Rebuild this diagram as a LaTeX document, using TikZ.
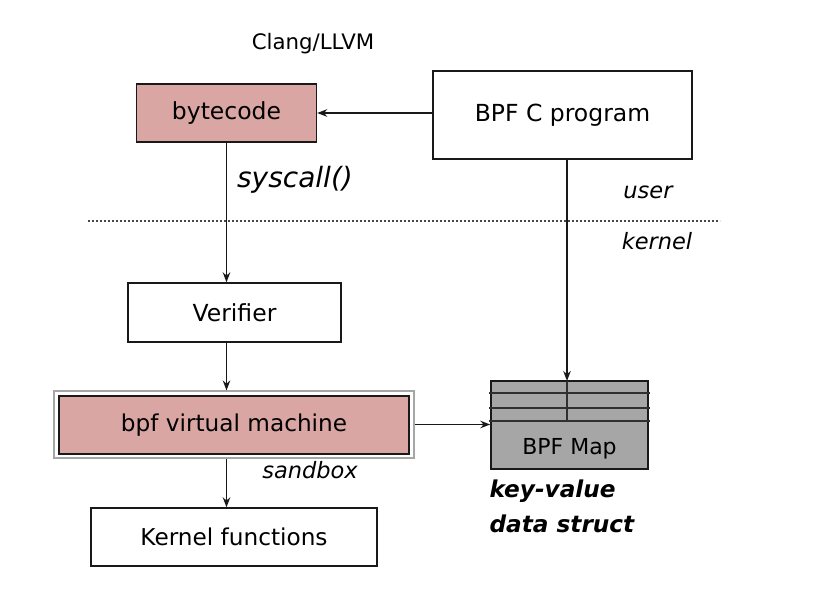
\documentclass[tikz,border=0pt]{standalone}
\usepackage{fontspec}
\setmainfont{DejaVu Sans}
\usetikzlibrary{arrows.meta}
\definecolor{bpfpink}{RGB}{217,166,164}
\definecolor{mapgray}{RGB}{166,166,166}
\definecolor{edge}{RGB}{25,25,25}
\tikzset{
  box/.style={draw=edge,line width=1.4pt,fill=white,inner sep=0pt},
  bigtxt/.style={font=\fontsize{23.5}{28}\selectfont},
  midtxt/.style={font=\fontsize{23.2}{28}\selectfont},
  note/.style={font=\itshape\fontsize{22.5}{27}\selectfont},
  flow/.style={draw=edge,line width=1.5pt,-{Stealth[length=10pt,width=7.5pt]}},
  mapline/.style={draw=edge!90,line width=1.3pt}
}
\begin{document}
\begin{tikzpicture}[x=1pt,y=-1pt]
    \useasboundingbox (0,0) rectangle (823,597) ;
    % user side
    \node[font=\fontsize{21.3}{26}\selectfont] (clang) at (313,44) {Clang/LLVM} ;
    \node[box,fill=bpfpink,bigtxt,minimum width=180pt,minimum height=58pt] (bytecode) at (226.5,113) {bytecode} ;
    \node[box,bigtxt,minimum width=259pt,minimum height=88pt] (bpfc) at (562.5,115) {BPF C program} ;
    \node[font=\itshape\fontsize{28}{33}\selectfont] (syscall) at (295,180) {syscall()} ;
    \node[note] (user) at (648,192) {user} ;
    %% user / kernel boundary
    \draw[edge!80,line width=1.2pt,dash pattern=on 2pt off 2pt] (88,221) -- (720,221) ;
    \node[note] (kernel) at (657,241) {kernel} ;
    % kernel side
    \node[box,bigtxt,minimum width=213pt,minimum height=59pt] (verifier) at (234.5,312.5) {Verifier} ;
    \node[box,draw=gray!70,line width=1.1pt,minimum width=360pt,minimum height=67pt] (vmbox) at (234,424.5) {} ;
    \node[box,fill=bpfpink,midtxt,minimum width=350pt,minimum height=58pt] (vm) at (234,425) {bpf virtual machine} ;
    \node[note] (sandbox) at (310,470) {sandbox} ;
    \node[box,midtxt,minimum width=286pt,minimum height=58pt] (kfun) at (234,537) {Kernel functions} ;
    % map
    \node[box,fill=mapgray,minimum width=157pt,minimum height=88pt] (map) at (569.5,425) {} ;
    \foreach \yy in {393,408,421}
      \draw[mapline] (489,\yy) -- (650,\yy) ;
    \coordinate (mapkey) at (567,381) ;
    \draw[mapline] (mapkey) -- (567,421) ;
    \node[font=\fontsize{22}{27}\selectfont] (maplbl) at (569.5,449) {BPF Map} ;
    \node[anchor=west,font=\bfseries\itshape\fontsize{23.2}{28}\selectfont] (kv) at (486,491) {key-value} ;
    \node[anchor=west,font=\bfseries\itshape\fontsize{23.2}{28}\selectfont] (ds) at (486,524) {data struct} ;
    % arrows
    \draw[flow] (bpfc.west |- bytecode.east) -- (bytecode.east) ;
    \draw[flow] (bytecode.south) -- (bytecode.south |- verifier.north) ;
    \draw[flow] (bytecode.south |- verifier.south) -- (bytecode.south |- vmbox.north) ;
    \draw[flow] (bytecode.south |- vmbox.south) -- (bytecode.south |- kfun.north) ;
    \draw[flow] (vmbox.east) -- (vmbox.east -| map.west) ;
    \draw[flow] (bpfc.south -| mapkey) -- (mapkey) ;
\end{tikzpicture}
\end{document}
